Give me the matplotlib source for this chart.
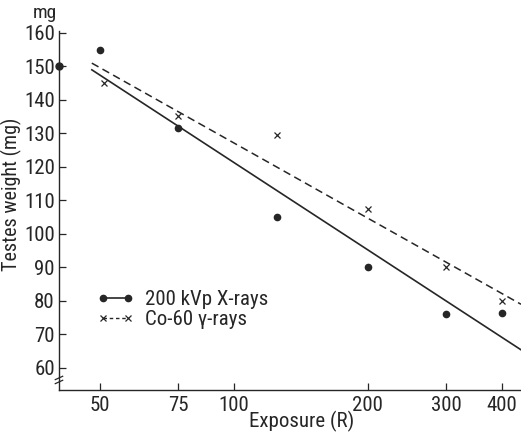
import matplotlib.pyplot as plt
import numpy as np
from matplotlib.lines import Line2D
from matplotlib.ticker import FixedLocator, NullLocator, FixedFormatter
from matplotlib import font_manager

names = set(f.name for f in font_manager.fontManager.ttflist)
fam = [n for n in ['DejaVu Sans Condensed', 'Liberation Sans Narrow', 'Roboto Condensed'] if n in names]
plt.rcParams['font.family'] = fam + ['DejaVu Sans']

# data
control = 150
xray_dose = [50, 75, 125, 200, 300, 400]
xray_wt = [155, 131.5, 105, 90, 76, 76.5]
co_dose = [51, 75, 125, 200, 300, 400]
co_wt = [145, 135.2, 129.5, 107.5, 90, 80]
# fitted lines (end points)
fit_dose = [48, 442]
xray_fit = [149, 65.4]
co_fit = [151, 79]

xticks = [50, 75, 100, 200, 300, 400]
yticks = list(range(60, 161, 10))
xmin, xmax = 40.5, 442
ymin, ymax = 53.4, 160.5

fig = plt.figure(figsize=(5.21, 4.33), dpi=100)
ax = fig.add_axes([0.1132, 0.0993, 0.8868, 0.8284])
ink = '#262626'
fs = 15

ax.plot(fit_dose, xray_fit, '-', color=ink, lw=1.2)
ax.plot(fit_dose, co_fit, '--', color=ink, lw=1.1, dashes=(5, 3))
ax.plot(xray_dose, xray_wt, 'o', color=ink, ms=4.5, ls='none')
ax.plot(co_dose, co_wt, 'x', color=ink, ms=4.5, mew=0.9, ls='none')
ax.plot([xmin], [control], 'o', color=ink, ms=5, clip_on=False, zorder=5)

ax.set_xscale('log')
ax.set_xlim(xmin, xmax)
ax.set_ylim(ymin, ymax)
ax.xaxis.set_major_locator(FixedLocator(xticks))
ax.xaxis.set_major_formatter(FixedFormatter([str(t) for t in xticks]))
ax.xaxis.set_minor_locator(NullLocator())
ax.set_yticks(yticks)
for s in ['top', 'right']:
    ax.spines[s].set_visible(False)
for s in ['left', 'bottom']:
    ax.spines[s].set_color(ink)
    ax.spines[s].set_linewidth(1.0)
ax.tick_params(direction='in', length=5, width=0.9, colors=ink,
               labelsize=fs, pad=3)
ax.tick_params(axis='x', pad=4)

ax.set_ylabel('Testes weight (mg)', fontsize=14.5, color=ink)
ax.yaxis.set_label_coords(-0.08, 0.545)
ax.set_xlabel('Exposure (R)', fontsize=fs, color=ink)
ax.xaxis.set_label_coords(0.526, -0.058)
ax.text(-0.03, 1.025, 'mg', transform=ax.transAxes, fontsize=14,
        color=ink, ha='center', va='bottom')

# axis break mark
tr = ax.get_yaxis_transform()
for dy in (0.0, 1.2):
    ax.plot([-0.008, 0.008], [55.3 + dy, 56.3 + dy], color=ink, lw=0.9,
            transform=tr, clip_on=False)

handles = [
    Line2D([], [], color=ink, ls='-', lw=1.2, marker='o', ms=4.5),
    Line2D([], [], color=ink, ls='--', lw=1.0, marker='x', ms=4, mew=0.9,
           dashes=(2.5, 2)),
]
ax.legend(handles, ['200 kVp X-rays', 'Co-60 γ-rays'], loc='upper left',
          bbox_to_anchor=(0.05, 0.32), frameon=False, numpoints=2,
          handlelength=1.8, handletextpad=0.5, fontsize=fs,
          labelspacing=0.05, labelcolor=ink, borderpad=0.2)

fig.savefig('out.png', dpi=100)
